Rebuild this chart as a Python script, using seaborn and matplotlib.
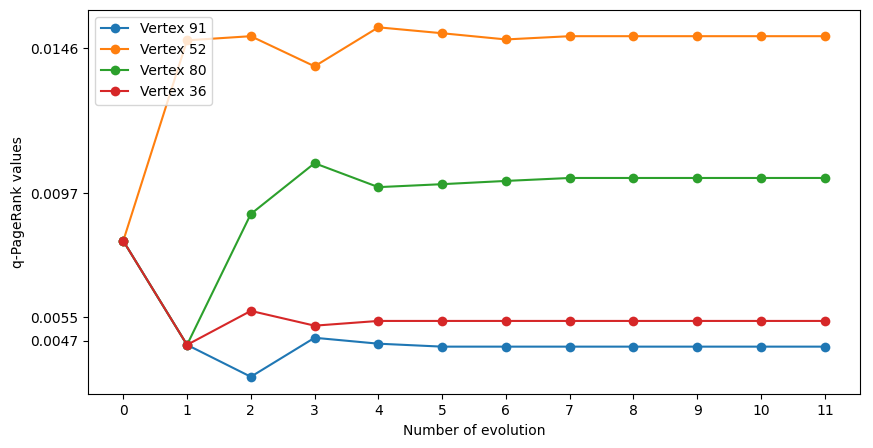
import matplotlib
matplotlib.use("Agg")
import matplotlib.pyplot as plt
import seaborn as sns
import pandas as pd

# values
steps = list(range(12))
vertex_91 = [0.00808, 0.00456, 0.00348, 0.00480, 0.00460, 0.00450, 0.00450,
             0.00450, 0.00450, 0.00450, 0.00450, 0.00450]
vertex_52 = [0.00808, 0.01487, 0.01501, 0.01399, 0.01531, 0.01511, 0.01490,
             0.01501, 0.01501, 0.01501, 0.01501, 0.01501]
vertex_80 = [0.00808, 0.00456, 0.00899, 0.01071, 0.00990, 0.01000, 0.01011,
             0.01021, 0.01021, 0.01021, 0.01021, 0.01021]
vertex_36 = [0.00808, 0.00456, 0.00571, 0.00521, 0.00537, 0.00537, 0.00537,
             0.00537, 0.00537, 0.00537, 0.00537, 0.00537]
y_ticks = [0.0047, 0.0055, 0.0097, 0.0146]

series = {"Vertex 91": vertex_91, "Vertex 52": vertex_52,
          "Vertex 80": vertex_80, "Vertex 36": vertex_36}
df = pd.DataFrame([(name, s, v) for name, vals in series.items()
                   for s, v in zip(steps, vals)],
                  columns=["vertex", "step", "value"])

fig, ax = plt.subplots(figsize=(8.73, 4.48), dpi=100)
fig.subplots_adjust(left=0.101, right=0.985, top=0.978, bottom=0.12)

sns.lineplot(data=df, x="step", y="value", hue="vertex", marker="o",
             markersize=7, markeredgewidth=0, palette="tab10", ax=ax)

ax.set_xticks(steps)
ax.set_yticks(y_ticks)
ax.set_yticklabels([f"{t:.4f}" for t in y_ticks])
ax.set_xlabel("Number of evolution")
ax.set_ylabel("q-PageRank values")
ax.legend(loc="upper left")

fig.savefig("out.png")
